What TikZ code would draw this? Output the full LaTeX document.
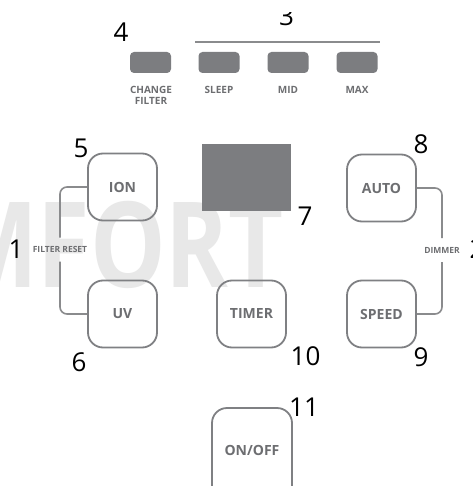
\documentclass[tikz,border=0pt]{standalone}
\usepackage{fontspec}
\setmainfont{Open Sans}
\newfontfamily\osans{Open Sans}
\definecolor{btnfill}{HTML}{7C7D80}
\definecolor{btnline}{HTML}{7F8083}
\definecolor{txtgray}{HTML}{6D6E71}
\definecolor{linkgray}{HTML}{8A8B8D}
\definecolor{wmgray}{HTML}{E8E8E8}
\begin{document}
\begin{tikzpicture}[x=1pt,y=-1pt,
  bigbtn/.style={draw=btnline, line width=1.8pt, rounded corners=15pt,
    minimum width=69pt, minimum height=67pt, inner sep=0pt,
    font=\osans\fontsize{14}{16}\bfseries\selectfont, text=txtgray},
  smallbtn/.style={fill=btnfill, rounded corners=4pt, minimum width=41pt,
    minimum height=21pt, inner sep=0pt},
  num/.style={font=\osans\fontsize{26}{28}\selectfont, text=black, inner sep=0pt},
  lbl/.style={font=\osans\fontsize{10}{11}\bfseries\selectfont, text=txtgray,
    align=center, inner sep=0pt, anchor=north},
  sidelbl/.style={font=\osans\fontsize{8.5}{9}\bfseries\selectfont, text=txtgray,
    inner sep=0pt, outer sep=0pt, minimum height=24pt},
  link/.style={draw=linkgray, line width=1.6pt, rounded corners=7pt}
]
\clip (0,0) rectangle (472,486);
\fill[white] (0,0) rectangle (472,486);
% watermark
\node[anchor=base east, inner sep=0pt, text=wmgray,
  font=\osans\fontsize{119}{120}\bfseries\selectfont] (wm) at (284,287)
  {\scalebox{0.8}[1]{MFORT}};
% top row
\node[num] (n4) at (121,32) {4};
\begin{scope}
\clip (250,12.5) rectangle (320,40);
\node[num] (n3) at (286.5,16) {3};
\end{scope}
\coordinate (l3a) at (195,42);
\coordinate (l3b) at (380,42);
\draw[draw=linkgray, line width=1.6pt] (l3a) -- (l3b);
\node[smallbtn] (cf) at (150.5,62.5) {};
\node[smallbtn] (sl) at (219,62.5) {};
\node[smallbtn] (mid) at (288,62.5) {};
\node[smallbtn] (max) at (357,62.5) {};
\node[lbl] (cft) at (151,86) {CHANGE\\FILTER};
\node[lbl] (slt) at (219,86) {SLEEP};
\node[lbl] (midt) at (288,86) {MID};
\node[lbl] (maxt) at (357,86) {MAX};
% display
\fill[btnfill] (202,144) rectangle (291,211);
\node[num] (n7) at (305,216) {7};
% big buttons
\node[bigbtn] (ion) at (122.5,187) {ION};
\node[bigbtn] (uv) at (122.5,314) {UV};
\node[bigbtn] (timer) at (251.5,314) {TIMER};
\node[bigbtn] (auto) at (381.5,188) {AUTO};
\node[bigbtn] (speed) at (381.5,314) {SPEED};
\node[bigbtn, minimum width=80pt, minimum height=100pt] (onoff) at (252,458) {};
\node[font=\osans\fontsize{14}{16}\bfseries\selectfont, text=txtgray] (onofft) at (252,450) {ON/OFF};
% side labels
\node[sidelbl] (fr) at (60,249.5) {FILTER RESET};
\node[sidelbl] (dim) at (442,250) {DIMMER};
\draw[link] (ion.west) -| (fr.north);
\draw[link] (fr.south) |- (uv.west);
\draw[link] (auto.east) -| (dim.north);
\draw[link] (dim.south) |- (speed.east);
% numbers
\node[num] (n5) at (81,148) {5};
\node[num] (n1) at (16,249) {1};
\node[num] (n6) at (79,362) {6};
\node[num] (n8) at (421,144) {8};
\node[num] (n2) at (477,249) {2};
\node[num] (n10) at (305.5,356.5) {10};
\node[num] (n9) at (421,357) {9};
\node[num] (n11) at (304,407.5) {11};
\end{tikzpicture}
\end{document}
